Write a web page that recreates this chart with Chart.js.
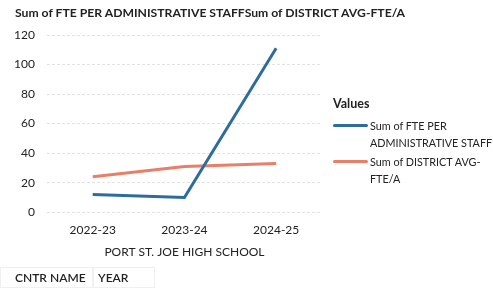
<!DOCTYPE html>
<html>
<head>
<meta charset="utf-8">
<script src="https://cdn.jsdelivr.net/npm/chart.js@4.4.0/dist/chart.umd.min.js"></script>
<style>
  html,body{margin:0;padding:0;background:#fff;}
  #wrap{position:relative;width:493px;height:289px;overflow:hidden;font-family:Lato,"Open Sans",sans-serif;color:#222;}
  canvas{position:absolute;left:0;top:0;}
  #title{position:absolute;left:15px;top:5px;font-size:12.2px;font-weight:bold;white-space:nowrap;}
  #legend{position:absolute;left:333px;top:95px;width:160px;font-size:10.8px;line-height:17px;white-space:nowrap;}
  #legend .hd{font-weight:bold;font-size:12.5px;margin-bottom:5px;}
  #legend .it{position:relative;padding-left:37px;margin-bottom:2px;}
  #legend .sw{position:absolute;left:0;top:7px;width:35px;height:3px;border-radius:2px;}
  #fields{position:absolute;left:0;top:267px;font-size:12px;font-weight:600;}
  #fields span{display:inline-block;padding:2px 4px;border:1px solid #f0f0f0;}
</style>
</head>
<body>
<div id="wrap">
  <canvas id="c" width="493" height="289"></canvas>
  <div id="title"></div>
  <div id="legend"></div>
  <div id="fields"><span style="padding-left:14px;width:73px">CNTR NAME</span><span style="width:52px">YEAR</span></div>
</div>
<script>
const chartTitle = "Sum of FTE PER ADMINISTRATIVE STAFFSum of DISTRICT AVG-FTE/A";
const xAxisTitle = "PORT ST. JOE HIGH SCHOOL";
const legendTitle = "Values";
const categories = ["2022-23", "2023-24", "2024-25"];
const seriesNames = ["Sum of FTE PER ADMINISTRATIVE STAFF", "Sum of DISTRICT AVG-FTE/A"];
const fteValues = [12, 10, 111];
const districtValues = [24, 31, 33];
const yTicks = [0, 20, 40, 60, 80, 100, 120];

const colors = ["#2f6c9e", "#e97f68"];
const legendLines = [["Sum of FTE PER", "ADMINISTRATIVE STAFF"], ["Sum of DISTRICT AVG-", "FTE/A"]];

document.getElementById('title').textContent = chartTitle;
const lg = document.getElementById('legend');
let html = '<div class="hd">' + legendTitle + '</div>';
legendLines.forEach((ls, i) => {
  html += '<div class="it"><span class="sw" style="background:' + colors[i] + '"></span>' + ls.join('<br>') + '</div>';
});
lg.innerHTML = html;

new Chart(document.getElementById('c'), {
  type: 'line',
  data: {
    labels: categories,
    datasets: [
      {label: seriesNames[0], data: fteValues, borderColor: colors[0], backgroundColor: colors[0], borderWidth: 3, pointRadius: 0, tension: 0},
      {label: seriesNames[1], data: districtValues, borderColor: colors[1], backgroundColor: colors[1], borderWidth: 3, pointRadius: 0, tension: 0}
    ]
  },
  options: {
    responsive: false,
    animation: false,
    layout: {padding: {left: 2, right: 171, top: 35, bottom: 26}},
    plugins: {
      legend: {display: false},
      tooltip: {enabled: false},
      title: {display: false}
    },
    scales: {
      x: {
        offset: true,
        grid: {display: false},
        border: {display: false},
        ticks: {color: '#222', font: {family: "Lato", size: 12}, padding: 3},
        title: {display: true, text: xAxisTitle, color: '#222', font: {family: "Lato", size: 12}, padding: {top: 4}}
      },
      y: {
        min: 0, max: 120,
        afterBuildTicks: (ax) => { ax.ticks = yTicks.map(v => ({value: v})); },
        grid: {color: '#e2e2e2', drawTicks: false},
        border: {display: false, dash: [3, 2]},
        ticks: {color: '#222', font: {family: "Lato", size: 12}, padding: 12}
      }
    }
  }
});
</script>
</body>
</html>
